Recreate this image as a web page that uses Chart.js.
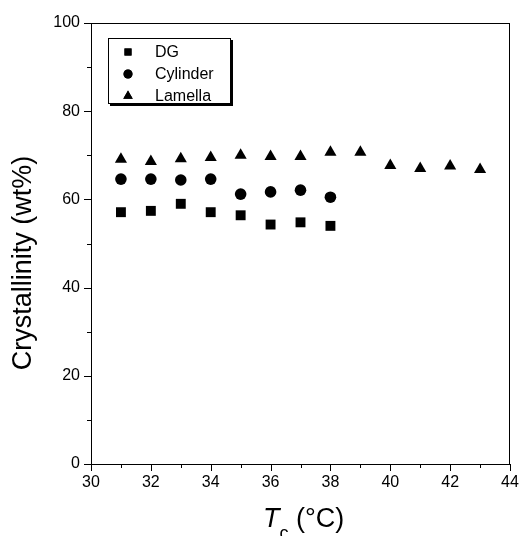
<!DOCTYPE html>
<html>
<head>
<meta charset="utf-8">
<script src="https://cdn.jsdelivr.net/npm/chart.js@4/dist/chart.umd.min.js"></script>
<style>
  html, body { margin: 0; padding: 0; background: #fff; }
  #wrap { width: 520px; height: 536px; position: relative; }
</style>
</head>
<body>
<div id="wrap"><canvas id="chart" width="520" height="536"></canvas></div>
<script>
// Data
const tcDG = [31, 32, 33, 34, 35, 36, 37, 38];
const dgValues = [57.1, 57.4, 59.0, 57.1, 56.4, 54.3, 54.8, 54.0];

const tcCylinder = [31, 32, 33, 34, 35, 36, 37, 38];
const cylinderValues = [64.6, 64.6, 64.4, 64.6, 61.2, 61.7, 62.1, 60.5];

const tcLamella = [31, 32, 33, 34, 35, 36, 37, 38, 39, 40, 41, 42, 43];
const lamellaValues = [69.1, 68.6, 69.2, 69.5, 70.0, 69.7, 69.7, 70.7, 70.7, 67.7, 67.0, 67.6, 66.8];

const xMajor = [30, 32, 34, 36, 38, 40, 42, 44];
const yMajor = [0, 20, 40, 60, 80, 100];

const toPoints = (xs, ys) => xs.map((x, i) => ({ x: x, y: ys[i] }));

// Frame, tick marks and axis titles
const framePlugin = {
    id: 'frame',
    afterDraw(chart) {
        const { ctx, chartArea: a, scales } = chart;
        ctx.save();
        ctx.strokeStyle = '#000';
        ctx.lineWidth = 1;
        ctx.strokeRect(a.left + 0.5, a.top + 0.5, a.right - a.left - 1, a.bottom - a.top);

        ctx.beginPath();
        for (let v = 0; v <= 100; v += 10) {
            const y = Math.round(scales.y.getPixelForValue(v)) + 0.5;
            const len = v % 20 === 0 ? 7 : 4;
            ctx.moveTo(a.left, y);
            ctx.lineTo(a.left - len, y);
        }
        for (let v = 30; v <= 44; v += 1) {
            const x = Math.round(scales.x.getPixelForValue(v)) + 0.5;
            const len = v % 2 === 0 ? 7 : 4;
            ctx.moveTo(x, a.bottom);
            ctx.lineTo(x, a.bottom + len);
        }
        ctx.stroke();

        // y title
        ctx.fillStyle = '#000';
        ctx.font = '27px "Liberation Sans", Arial, sans-serif';
        ctx.textAlign = 'center';
        ctx.textBaseline = 'middle';
        ctx.save();
        ctx.translate(24, 263);
        ctx.rotate(-Math.PI / 2);
        ctx.fillText('Crystallinity (wt%)', 0, 0);
        ctx.restore();

        // x title: italic T with subscript c
        ctx.textAlign = 'left';
        ctx.textBaseline = 'alphabetic';
        let x = 263;
        const base = 527;
        ctx.font = 'italic 27px "Liberation Sans", Arial, sans-serif';
        ctx.fillText('T', x, base);
        x += ctx.measureText('T').width;
        ctx.font = '18px "Liberation Sans", Arial, sans-serif';
        ctx.fillText('c', x, base + 12);
        x += ctx.measureText('c').width;
        ctx.font = '27px "Liberation Sans", Arial, sans-serif';
        ctx.fillText(' (°C)', x, base);
        ctx.restore();
    }
};

// Legend box with shadow
const legendPlugin = {
    id: 'boxLegend',
    afterDraw(chart) {
        const { ctx } = chart;
        const bx = 108, by = 38, bw = 123, bh = 66;
        ctx.save();
        ctx.fillStyle = '#000';
        ctx.fillRect(bx + 2, by + 2, bw, bh);
        ctx.fillStyle = '#fff';
        ctx.fillRect(bx, by, bw, bh);
        ctx.strokeStyle = '#000';
        ctx.lineWidth = 1;
        ctx.strokeRect(bx + 0.5, by + 0.5, bw - 1, bh - 1);

        ctx.font = '16px "Liberation Sans", Arial, sans-serif';
        ctx.textBaseline = 'middle';
        ctx.textAlign = 'left';
        const rows = [52, 74, 96];
        const radii = [5, 4.5, 5.5];
        chart.data.datasets.forEach((ds, i) => {
            ctx.fillStyle = '#000';
            ctx.strokeStyle = '#000';
            Chart.helpers.drawPoint(ctx, { pointStyle: ds.pointStyle, radius: radii[i], borderWidth: 0 }, 128, rows[i]);
            ctx.fill();
            ctx.fillText(ds.label, 155, rows[i] + 1);
        });
        ctx.restore();
    }
};

new Chart(document.getElementById('chart'), {
    type: 'scatter',
    data: {
        datasets: [
            { label: 'DG', data: toPoints(tcDG, dgValues), pointStyle: 'rect', pointRadius: 7 },
            { label: 'Cylinder', data: toPoints(tcCylinder, cylinderValues), pointStyle: 'circle', pointRadius: 5.8 },
            { label: 'Lamella', data: toPoints(tcLamella, lamellaValues), pointStyle: 'triangle', pointRadius: 7 }
        ].map(d => Object.assign(d, {
            backgroundColor: '#000',
            borderColor: '#000',
            borderWidth: 0,
            pointHoverRadius: d.pointRadius
        }))
    },
    options: {
        responsive: false,
        animation: false,
        events: [],
        layout: { padding: { top: 23, right: 10, left: 0, bottom: 0 } },
        plugins: { legend: { display: false }, tooltip: { enabled: false } },
        scales: {
            x: {
                type: 'linear',
                min: 30, max: 44,
                afterFit: s => { s.height = 72; s.paddingLeft = 0; s.paddingRight = 0; },
                afterBuildTicks: s => { s.ticks = xMajor.map(v => ({ value: v })); },
                grid: { display: false, drawTicks: false },
                border: { display: false },
                ticks: { color: '#000', padding: 9, font: { size: 16, family: '"Liberation Sans", Arial, sans-serif' } }
            },
            y: {
                min: 0, max: 100,
                afterFit: s => { s.width = 91; s.paddingTop = 0; s.paddingBottom = 0; },
                afterBuildTicks: s => { s.ticks = yMajor.map(v => ({ value: v })); },
                grid: { display: false, drawTicks: false },
                border: { display: false },
                ticks: { color: '#000', padding: 11, font: { size: 16, family: '"Liberation Sans", Arial, sans-serif' } }
            }
        }
    },
    plugins: [framePlugin, legendPlugin]
});
</script>
</body>
</html>
